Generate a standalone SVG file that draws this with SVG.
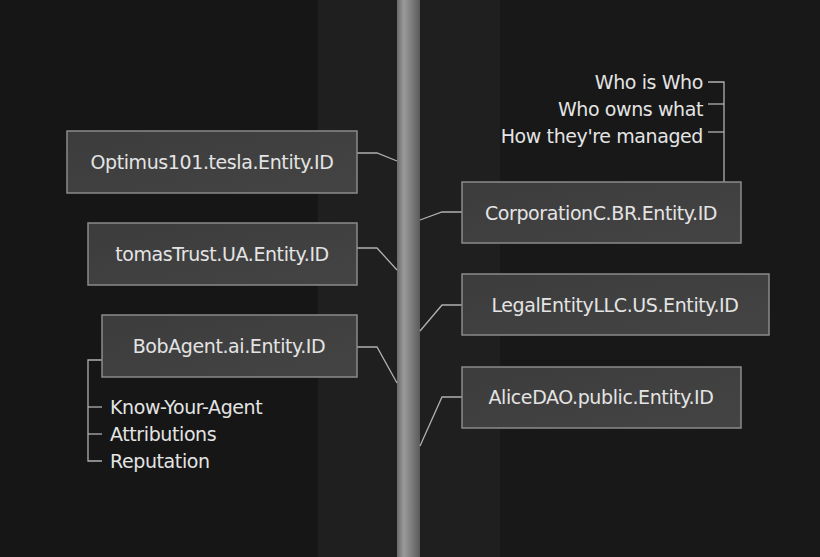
<svg xmlns="http://www.w3.org/2000/svg" width="820" height="557" viewBox="0 0 820 557">
<defs>
<linearGradient id="pole" x1="0" x2="1" y1="0" y2="0">
<stop offset="0" stop-color="#6a6a6a"/><stop offset="0.3" stop-color="#9a9a9a"/><stop offset="0.6" stop-color="#808080"/><stop offset="1" stop-color="#5a5a5a"/>
</linearGradient>
<linearGradient id="box" x1="0" y1="0" x2="1" y2="1">
<stop offset="0" stop-color="#3c3c3c"/><stop offset="1" stop-color="#444"/>
</linearGradient>
<style>
.b{fill:url(#box);stroke:#8a8a8a;stroke-width:1.5}
.t{font-family:"DejaVu Sans","Liberation Sans",sans-serif;font-size:19px;fill:#e4e4e4;letter-spacing:-0.4px}
.c{fill:none;stroke:#b0b0b0;stroke-width:1.3}
</style>
</defs>
<rect width="820" height="557" fill="#161616"/>
<rect x="318" y="0" width="182" height="557" fill="#1f1f1f"/>
<rect x="500" y="0" width="320" height="557" fill="#181818"/>
<rect x="397" y="0" width="23" height="557" fill="url(#pole)"/>
<g id="connectors" class="c">
<polyline points="357,153 377,153 397,161"/>
<polyline points="357,248 377,248 397,270"/>
<polyline points="357,347 377,347 397,383"/>
<polyline points="102,360 88,360 88,461 102,461"/>
<line x1="88" y1="407" x2="102" y2="407"/>
<line x1="88" y1="434" x2="102" y2="434"/>
<polyline points="420,220 442,212 462,212"/>
<polyline points="420,331 442,305 462,305"/>
<polyline points="420,446 442,397 462,397"/>
<polyline points="708,82 724,82 724,182"/>
<line x1="708" y1="104" x2="724" y2="104"/>
<line x1="708" y1="132" x2="724" y2="132"/>
</g>
<g id="optimus"><rect class="b" x="67" y="131" width="290" height="62"/><text class="t" x="212" y="169" text-anchor="middle">Optimus101.tesla.Entity.ID</text></g>
<g id="tomas"><rect class="b" x="88" y="223" width="269" height="62"/><text class="t" x="222" y="261" text-anchor="middle">tomasTrust.UA.Entity.ID</text></g>
<g id="bob"><rect class="b" x="102" y="315" width="255" height="62"/><text class="t" x="229" y="353" text-anchor="middle">BobAgent.ai.Entity.ID</text></g>
<g id="bob-notes">
<text class="t" x="110" y="414">Know-Your-Agent</text>
<text class="t" x="110" y="441">Attributions</text>
<text class="t" x="110" y="468">Reputation</text>
</g>
<g id="corp"><rect class="b" x="462" y="182" width="279" height="61"/><text class="t" x="601" y="220" text-anchor="middle">CorporationC.BR.Entity.ID</text></g>
<g id="legal"><rect class="b" x="462" y="274" width="307" height="61"/><text class="t" x="615" y="312" text-anchor="middle">LegalEntityLLC.US.Entity.ID</text></g>
<g id="alice"><rect class="b" x="462" y="367" width="279" height="61"/><text class="t" x="601" y="404" text-anchor="middle">AliceDAO.public.Entity.ID</text></g>
<g id="corp-notes">
<text class="t" x="703" y="89" text-anchor="end">Who is Who</text>
<text class="t" x="703" y="116" text-anchor="end">Who owns what</text>
<text class="t" x="703" y="143" text-anchor="end">How they're managed</text>
</g>
</svg>
